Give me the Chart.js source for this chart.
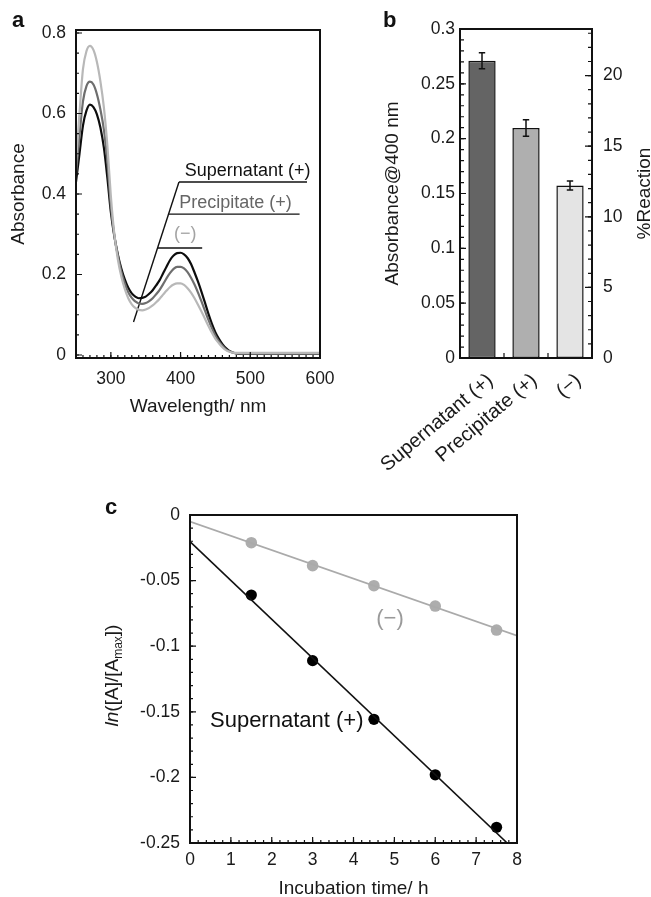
<!DOCTYPE html>
<html><head><meta charset="utf-8">
<script src="https://cdn.jsdelivr.net/npm/chart.js@4.4.1/dist/chart.umd.min.js"></script>
<style>
html,body{margin:0;padding:0;background:#fff}
body{width:651px;height:897px;overflow:hidden;position:relative;font-family:"Liberation Sans",Arial,sans-serif}
canvas{position:absolute;display:block}
.tag{position:absolute;font-weight:bold;font-size:22px;line-height:22px;color:#111}
</style></head><body>
<canvas id="ca" width="345" height="425" style="left:0;top:0"></canvas>
<canvas id="cb" width="311" height="490" style="left:340px;top:0"></canvas>
<canvas id="cc" width="651" height="420" style="left:0;top:490px"></canvas>
<div class="tag" style="left:12px;top:9px">a</div>
<div class="tag" style="left:383px;top:9px">b</div>
<div class="tag" style="left:105px;top:496px">c</div>
<script>
// ---------------- Panel a data ----------------
const wavelengthNm = [250,255,260,265,270,275,280,285,290,295,300,305,310,315,320,325,330,335,340,345,350,355,360,365,370,375,380,385,390,395,400,405,410,415,420,425,430,435,440,445,450,455,460,465,470,475,480,485,490,495,500,510,520,530,540,550,560,570,580,590,600];
const absSupernatant = [0.43,0.50,0.57,0.607,0.622,0.616,0.598,0.565,0.515,0.44,0.355,0.295,0.25,0.215,0.188,0.167,0.153,0.145,0.141,0.142,0.145,0.152,0.161,0.173,0.186,0.203,0.22,0.236,0.247,0.253,0.254,0.25,0.241,0.226,0.205,0.182,0.157,0.13,0.102,0.077,0.056,0.04,0.027,0.017,0.01,0.006,0.004,0.003,0.003,0.003,0.003,0.003,0.003,0.003,0.003,0.003,0.003,0.003,0.003,0.003,0.003];
const absPrecipitate = [0.45,0.545,0.63,0.668,0.679,0.672,0.648,0.61,0.56,0.48,0.37,0.297,0.247,0.207,0.178,0.156,0.142,0.133,0.128,0.127,0.129,0.134,0.141,0.151,0.162,0.176,0.191,0.204,0.214,0.219,0.219,0.215,0.206,0.192,0.175,0.155,0.133,0.11,0.087,0.066,0.048,0.034,0.023,0.014,0.009,0.006,0.004,0.004,0.003,0.003,0.003,0.003,0.003,0.003,0.003,0.003,0.003,0.003,0.003,0.003,0.003];
const absMinus = [0.48,0.60,0.71,0.755,0.768,0.758,0.728,0.68,0.615,0.52,0.395,0.30,0.238,0.195,0.164,0.141,0.126,0.117,0.112,0.111,0.113,0.117,0.123,0.131,0.14,0.15,0.16,0.169,0.175,0.178,0.178,0.174,0.166,0.155,0.141,0.125,0.108,0.09,0.072,0.055,0.04,0.029,0.019,0.012,0.008,0.006,0.005,0.005,0.005,0.005,0.005,0.005,0.005,0.005,0.005,0.005,0.005,0.005,0.005,0.005,0.005];
const aXTicks = [300,400,500,600];
const aYTicks = [0,0.2,0.4,0.6,0.8];
const aYTickLabels = ['0','0.2','0.4','0.6','0.8'];
// callout (legend) in panel a, in data units
const calloutLabels = ['Supernatant (+)','Precipitate (+)','(\u2212)'];
const calloutLevelAbs = [0.430,0.350,0.266];
const calloutStartNm = [397.7,382.8,367.1];
const calloutEndNm = [581.4,570.7,431];
const calloutSlantNm = [332.5,397.7];
const calloutSlantAbs = [0.082,0.430];
const calloutTextNm = [406.1,398.1,390.7];
const calloutTextAbs = [0.4448,0.3645,0.287];

// ---------------- Panel b data ----------------
const bCategories = ['Supernatant (+)','Precipitate (+)','(\u2212)'];
const bAbsorbance = [0.271,0.2097,0.1573];
const bError = [0.0073,0.0076,0.0042];
const bYTicks = [0,0.05,0.1,0.15,0.2,0.25,0.3];
const bYTickLabels = ['0','0.05','0.1','0.15','0.2','0.25','0.3'];
const bY2Ticks = [0,5,10,15,20];

// ---------------- Panel c data ----------------
const cTimeH = [1.5,3,4.5,6,7.5];
const cLnMinus = [-0.0211,-0.0386,-0.0539,-0.0694,-0.0877];
const cLnSupernatant = [-0.061,-0.111,-0.1557,-0.198,-0.238];
const cFitMinusT = [0,8];
const cFitMinusY = [-0.005,-0.092];
const cFitSupT = [0,7.76];
const cFitSupY = [-0.0203,-0.25];
const cXTicks = [0,1,2,3,4,5,6,7,8];
const cYTicks = [-0.25,-0.2,-0.15,-0.1,-0.05,0];
const cYTickLabels = ['-0.25','-0.2','-0.15','-0.1','-0.05','0'];

// ---------------- helpers ----------------
const FONT = "'Liberation Sans', Arial, Helvetica, sans-serif";
const INK = '#1a1a1a';
Chart.defaults.font.family = FONT;
Chart.defaults.color = INK;
Chart.defaults.animation = false;
Chart.defaults.plugins.legend.display = false;
Chart.defaults.plugins.tooltip.enabled = false;

function fixedBox(size){ return s => { if (s.isHorizontal()) s.height = size; else s.width = size; }; }
function setTicks(vals){ return s => { s.ticks = vals.map(v => ({value: v})); }; }
function steps(a,b,s){ const r=[]; for(let i=0;a+i*s<=b+1e-9;i++) r.push(+(a+i*s).toFixed(6)); return r; }
function pts(xs,ys){ return xs.map((x,i)=>({x, y: ys[i]})); }
function drawTicks(ctx, scale, area, values, len, edge){
  ctx.beginPath();
  values.forEach(v => {
    const p = scale.getPixelForValue(v);
    if (edge==='left'){ ctx.moveTo(area.left,p); ctx.lineTo(area.left+len,p); }
    else if (edge==='right'){ ctx.moveTo(area.right,p); ctx.lineTo(area.right-len,p); }
    else { ctx.moveTo(p,area.bottom); ctx.lineTo(p,area.bottom-len); }
  });
  ctx.stroke();
}
function framePlugin(specs){
  return { id:'frame', afterDatasetsDraw(chart){
    const {ctx, chartArea:a} = chart;
    ctx.save(); ctx.strokeStyle = '#111'; ctx.lineWidth = 1.2;
    specs.forEach(t => drawTicks(ctx, chart.scales[t.scale], a, t.values, t.len, t.edge));
    ctx.lineWidth = 2;
    ctx.strokeRect(a.left, a.top, a.right-a.left, a.bottom-a.top);
    ctx.restore();
  }};
}
const hiddenGrid = {display:false, drawTicks:false};
const noBorder = {display:false};

// ---------------- Panel a ----------------
const calloutSets = calloutLabels.map((_,i)=>({
  data: pts([calloutStartNm[i], calloutEndNm[i]], [calloutLevelAbs[i], calloutLevelAbs[i]]),
  borderColor:'#111', borderWidth:1.4, pointRadius:0
}));
new Chart(document.getElementById('ca'), {
  type:'line',
  data:{ datasets:[
    {data:pts(wavelengthNm,absMinus), borderColor:'#b8b8b8', borderWidth:2.2, pointRadius:0, cubicInterpolationMode:'monotone'},
    {data:pts(wavelengthNm,absPrecipitate), borderColor:'#6e6e6e', borderWidth:2.2, pointRadius:0, cubicInterpolationMode:'monotone'},
    {data:pts(wavelengthNm,absSupernatant), borderColor:'#0d0d0d', borderWidth:2.2, pointRadius:0, cubicInterpolationMode:'monotone'},
    {data:pts(calloutSlantNm,calloutSlantAbs), borderColor:'#111', borderWidth:1.4, pointRadius:0},
    ...calloutSets
  ]},
  options:{
    responsive:false, animation:false,
    layout:{padding:{top:30,right:6,left:0,bottom:0}, autoPadding:false},
    scales:{
      x:{type:'linear', min:250, max:600, afterBuildTicks:setTicks(aXTicks), afterFit:fixedBox(67),
        grid:hiddenGrid, border:noBorder,
        ticks:{font:{size:17.5}, padding:10.4, maxRotation:0, autoSkip:false, callback:v=>String(v)},
        title:{display:true, text:'Wavelength/ nm', font:{size:19}, color:INK, padding:{top:0,bottom:6.9}}},
      y:{type:'linear', min:-0.0075, max:0.8075, afterBuildTicks:setTicks(aYTicks), afterFit:fixedBox(76),
        grid:hiddenGrid, border:noBorder,
        ticks:{font:{size:17.5}, padding:10, autoSkip:false, callback:(v,i)=>aYTickLabels[i]},
        title:{display:true, text:'Absorbance', font:{size:19}, color:INK, padding:{top:7,bottom:0}}}
    }
  },
  plugins:[
    framePlugin([
      {scale:'x', edge:'bottom', values:steps(250,600,10), len:3},
      {scale:'x', edge:'bottom', values:[300,400,500], len:6},
      {scale:'y', edge:'left', values:steps(0,0.8,0.05), len:3},
      {scale:'y', edge:'left', values:aYTicks, len:6}
    ]),
    { id:'calloutText', afterDatasetsDraw(chart){
      const {ctx, scales:{x,y}} = chart;
      const colors = ['#111','#666','#a3a3a3'];
      ctx.save(); ctx.font = '18px '+FONT; ctx.textAlign='left'; ctx.textBaseline='alphabetic';
      calloutLabels.forEach((t,i)=>{ ctx.fillStyle=colors[i]; ctx.fillText(t, x.getPixelForValue(calloutTextNm[i]), y.getPixelForValue(calloutTextAbs[i])); });
      ctx.restore();
    }}
  ]
});

// ---------------- Panel b ----------------
new Chart(document.getElementById('cb'), {
  type:'bar',
  data:{ labels:bCategories, datasets:[{
    data:bAbsorbance, backgroundColor:['#646464','#afafaf','#e4e4e4'], borderColor:'#111', borderWidth:1.5,
    borderSkipped:false, barPercentage:0.62, categoryPercentage:1, yAxisID:'y'
  }]},
  options:{
    responsive:false, animation:false,
    layout:{padding:{top:29,right:0,left:0,bottom:0}, autoPadding:false},
    scales:{
      x:{type:'category', afterFit:fixedBox(132), grid:hiddenGrid, border:noBorder,
        ticks:{font:{size:20}, padding:10.9, labelOffset:8.6, maxRotation:40, minRotation:40, autoSkip:false}},
      y:{type:'linear', position:'left', min:0, max:0.3, afterBuildTicks:setTicks(bYTicks), afterFit:fixedBox(120),
        grid:hiddenGrid, border:noBorder,
        ticks:{font:{size:17.5}, padding:5, autoSkip:false, callback:(v,i)=>bYTickLabels[i]},
        title:{display:true, text:'Absorbance@400 nm', font:{size:19}, color:INK, padding:{top:41,bottom:0}}},
      y2:{type:'linear', position:'right', min:0, max:23.3, afterBuildTicks:setTicks(bY2Ticks), afterFit:fixedBox(59),
        grid:hiddenGrid, border:noBorder,
        ticks:{font:{size:17.5}, padding:11, autoSkip:false, callback:v=>String(v)}}
    }
  },
  plugins:[
    framePlugin([
      {scale:'y', edge:'left', values:steps(0,0.3,0.01), len:4},
      {scale:'y', edge:'left', values:bYTicks, len:6},
      {scale:'y2', edge:'right', values:steps(0,23,1), len:4},
      {scale:'y2', edge:'right', values:bY2Ticks, len:7},
      {scale:'x', edge:'bottom', values:[0.5,1.5], len:5}
    ]),
    { id:'errorBars', afterDatasetsDraw(chart){
      const {ctx} = chart; const y = chart.scales.y;
      const meta = chart.getDatasetMeta(0);
      ctx.save(); ctx.strokeStyle='#111'; ctx.lineWidth=1.5;
      meta.data.forEach((el,i)=>{
        const x = el.x, t = y.getPixelForValue(bAbsorbance[i]+bError[i]), b = y.getPixelForValue(bAbsorbance[i]-bError[i]);
        ctx.beginPath(); ctx.moveTo(x,t); ctx.lineTo(x,b);
        ctx.moveTo(x-3.2,t); ctx.lineTo(x+3.2,t); ctx.moveTo(x-3.2,b); ctx.lineTo(x+3.2,b); ctx.stroke();
      });
      ctx.restore();
    }},
    { id:'rightTitle', afterDraw(chart){
      const {ctx, chartArea:a} = chart;
      ctx.save(); ctx.fillStyle=INK; ctx.font='19px '+FONT; ctx.textAlign='center'; ctx.textBaseline='alphabetic';
      ctx.translate(310, (a.top+a.bottom)/2); ctx.rotate(-Math.PI/2); ctx.fillText('%Reaction',0,0);
      ctx.restore();
    }}
  ]
});

// ---------------- Panel c ----------------
new Chart(document.getElementById('cc'), {
  type:'line',
  data:{ datasets:[
    {data:pts(cFitMinusT,cFitMinusY), borderColor:'#aaaaaa', borderWidth:1.6, pointRadius:0},
    {data:pts(cFitSupT,cFitSupY), borderColor:'#111', borderWidth:1.6, pointRadius:0},
    {data:pts(cTimeH,cLnMinus), showLine:false, pointRadius:5.8, pointBackgroundColor:'#adadad', pointBorderWidth:0, borderColor:'#adadad'},
    {data:pts(cTimeH,cLnSupernatant), showLine:false, pointRadius:5.6, pointBackgroundColor:'#000', pointBorderWidth:0, borderColor:'#000'}
  ]},
  options:{
    responsive:false, animation:false,
    layout:{padding:{top:25,right:134,left:0,bottom:0}, autoPadding:false},
    scales:{
      x:{type:'linear', min:0, max:8, afterBuildTicks:setTicks(cXTicks), afterFit:fixedBox(67),
        grid:hiddenGrid, border:noBorder,
        ticks:{font:{size:17.5}, padding:7.1, maxRotation:0, autoSkip:false, callback:v=>String(v)},
        title:{display:true, text:'Incubation time/ h', font:{size:19}, color:INK, padding:{top:0,bottom:10.2}}},
      y:{type:'linear', min:-0.25, max:0, afterBuildTicks:setTicks(cYTicks), afterFit:fixedBox(190),
        grid:hiddenGrid, border:noBorder,
        ticks:{font:{size:17.5}, padding:10, autoSkip:false, callback:(v,i)=>cYTickLabels[i]}}
    }
  },
  plugins:[
    framePlugin([
      {scale:'x', edge:'bottom', values:steps(0,8,0.2), len:3},
      {scale:'x', edge:'bottom', values:cXTicks, len:6},
      {scale:'y', edge:'left', values:steps(-0.25,0,0.01), len:3},
      {scale:'y', edge:'left', values:cYTicks, len:6}
    ]),
    { id:'cLabels', afterDatasetsDraw(chart){
      const {ctx, scales:{x,y}} = chart;
      ctx.save(); ctx.font='22px '+FONT; ctx.textBaseline='alphabetic';
      ctx.fillStyle='#9a9a9a'; ctx.textAlign='center';
      ctx.fillText('(\u2212)', x.getPixelForValue(4.893), y.getPixelForValue(-0.0841));
      ctx.fillStyle='#111'; ctx.textAlign='left';
      ctx.fillText('Supernatant (+)', x.getPixelForValue(0.489), y.getPixelForValue(-0.1614));
      ctx.restore();
    }},
    { id:'cYTitle', afterDraw(chart){
      const {ctx, chartArea:a} = chart;
      const parts = [
        {t:'ln', f:'italic 19px '+FONT, dy:0},
        {t:'([A]/[A', f:'19px '+FONT, dy:0},
        {t:'max', f:'12px '+FONT, dy:4},
        {t:'])', f:'19px '+FONT, dy:0}
      ];
      ctx.save(); ctx.fillStyle=INK; ctx.textBaseline='alphabetic'; ctx.textAlign='left';
      let w = 0; parts.forEach(p=>{ ctx.font=p.f; p.w = ctx.measureText(p.t).width; w += p.w; });
      ctx.translate(118, (a.top+a.bottom)/2 - 3.5); ctx.rotate(-Math.PI/2);
      let cx = -w/2;
      parts.forEach(p=>{ ctx.font=p.f; ctx.fillText(p.t, cx, p.dy); cx += p.w; });
      ctx.restore();
    }}
  ]
});
</script>
</body></html>
